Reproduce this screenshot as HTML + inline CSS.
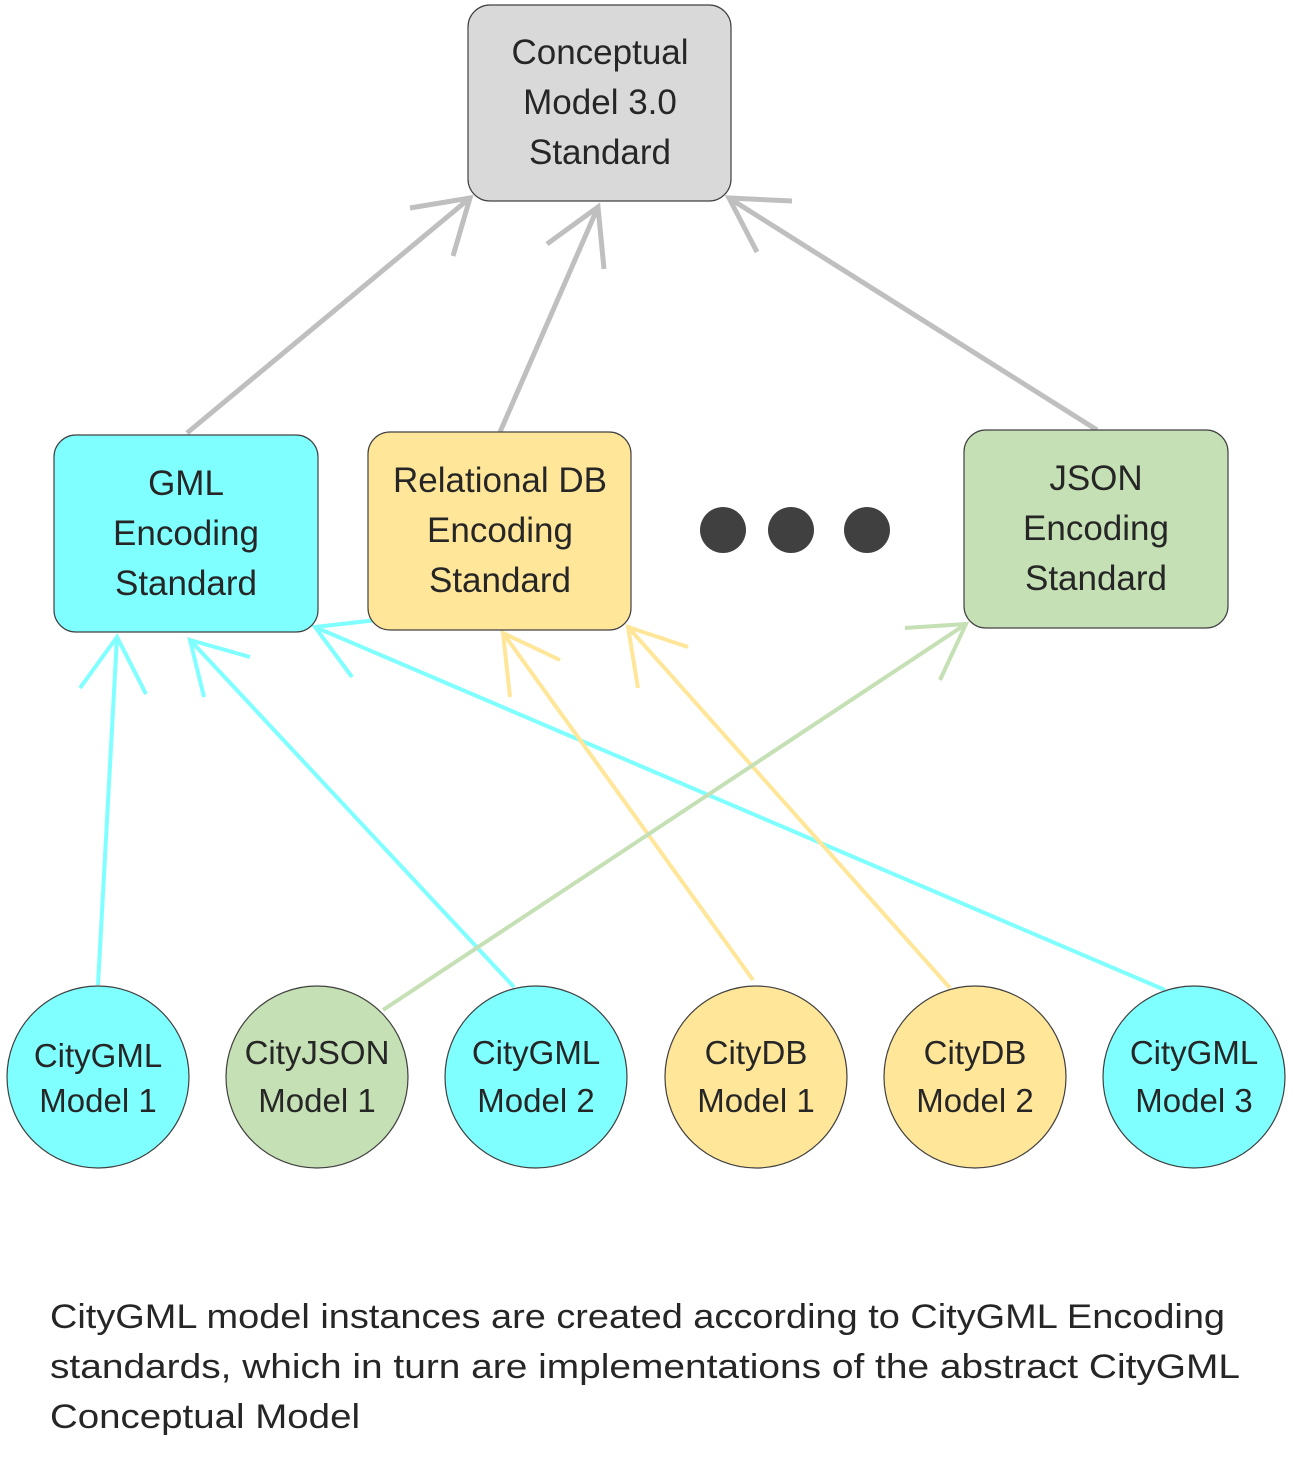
<!DOCTYPE html>
<html><head><meta charset="utf-8"><style>
html,body{margin:0;padding:0;background:#fff;}
svg{display:block;}
text{font-family:"Liberation Sans",sans-serif;fill:#262626;}
</style></head><body>
<svg width="1295" height="1463" viewBox="0 0 1295 1463" xmlns="http://www.w3.org/2000/svg">
<g fill="none" stroke-linecap="butt">
<g stroke="#bfbfbf" stroke-width="5">
<line x1="187" y1="433" x2="470" y2="198"/><polyline points="410,208 470,198 453,256"/>
<line x1="500" y1="432" x2="598" y2="207"/><polyline points="547,244 598,207 604,269"/>
<line x1="1097" y1="430" x2="729" y2="198"/><polyline points="792,201 729,198 757,252"/>
</g>
<g stroke="#7fffff" stroke-width="4">
<line x1="98" y1="985" x2="117" y2="637"/><polyline points="80,688 117,637 146,694"/>
<line x1="514" y1="987" x2="190" y2="640"/><polyline points="204,697 190,640 250,657"/>
<line x1="1165" y1="990" x2="315" y2="627"/><polyline points="352,677 315,627 377,620"/>
</g>
<g stroke="#ffe699" stroke-width="4">
<line x1="753" y1="980" x2="503" y2="633"/><polyline points="510,697 503,633 560,660"/>
<line x1="950" y1="988" x2="628" y2="627"/><polyline points="638,688 628,627 688,647"/>
</g>
<g stroke="#c5e0b4" stroke-width="4">
<line x1="383" y1="1010" x2="966" y2="624"/><polyline points="905,628 966,624 940,680"/>
</g>
</g>
<g stroke="#404040" stroke-width="1.2">
<rect x="468" y="5" width="263" height="196" rx="22" fill="#d9d9d9"/>
<rect x="54" y="435" width="264" height="197" rx="22" fill="#7fffff"/>
<rect x="368" y="432" width="263" height="198" rx="22" fill="#ffe699"/>
<rect x="964" y="430" width="264" height="198" rx="22" fill="#c5e0b4"/>
<circle cx="98" cy="1077" r="91" fill="#7fffff"/>
<circle cx="317" cy="1077" r="91" fill="#c5e0b4"/>
<circle cx="536" cy="1077" r="91" fill="#7fffff"/>
<circle cx="756" cy="1077" r="91" fill="#ffe699"/>
<circle cx="975" cy="1077" r="91" fill="#ffe699"/>
<circle cx="1194" cy="1077" r="91" fill="#7fffff"/>
</g>
<g fill="#404040">
<circle cx="723" cy="530" r="23"/><circle cx="791" cy="530" r="23"/><circle cx="867" cy="530" r="23"/>
</g>
<g font-size="35" text-anchor="middle">
<text x="600" y="64">Conceptual</text><text x="600" y="114">Model 3.0</text><text x="600" y="164">Standard</text>
<text x="186" y="495">GML</text><text x="186" y="545">Encoding</text><text x="186" y="595">Standard</text>
<text x="500" y="492">Relational DB</text><text x="500" y="542">Encoding</text><text x="500" y="592">Standard</text>
<text x="1096" y="490">JSON</text><text x="1096" y="540">Encoding</text><text x="1096" y="590">Standard</text>
</g>
<g font-size="33" text-anchor="middle">
<text x="98" y="1067">CityGML</text><text x="98" y="1112">Model 1</text>
<text x="317" y="1064">CityJSON</text><text x="317" y="1112">Model 1</text>
<text x="536" y="1064">CityGML</text><text x="536" y="1112">Model 2</text>
<text x="756" y="1064">CityDB</text><text x="756" y="1112">Model 1</text>
<text x="975" y="1064">CityDB</text><text x="975" y="1112">Model 2</text>
<text x="1194" y="1064">CityGML</text><text x="1194" y="1112">Model 3</text>
</g>
<g font-size="34">
<text x="50" y="1328" textLength="1175" lengthAdjust="spacingAndGlyphs">CityGML model instances are created according to CityGML Encoding</text>
<text x="50" y="1378" textLength="1190" lengthAdjust="spacingAndGlyphs">standards, which in turn are implementations of the abstract CityGML</text>
<text x="50" y="1428" textLength="310" lengthAdjust="spacingAndGlyphs">Conceptual Model</text>
</g>
</svg>
</body></html>
